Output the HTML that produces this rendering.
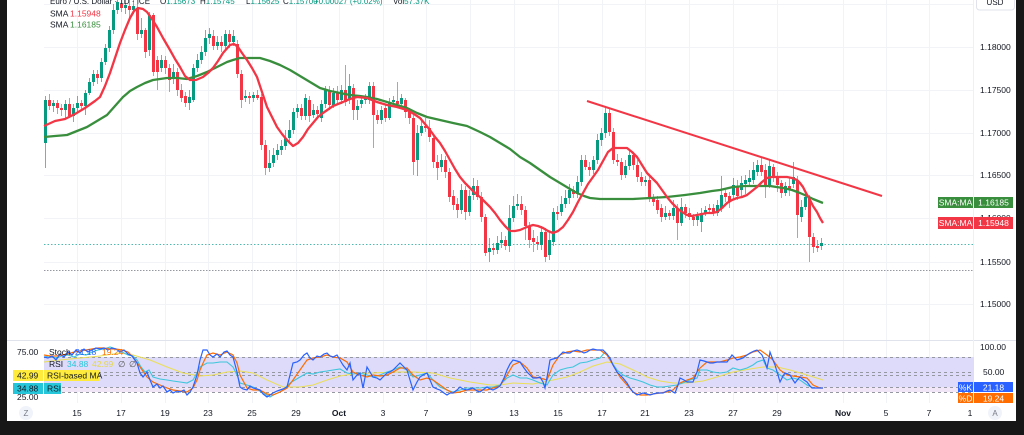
<!DOCTYPE html>
<html><head><meta charset="utf-8"><style>
html,body{margin:0;padding:0;background:#fff;}
svg{display:block;font-family:"Liberation Sans",sans-serif;}
</style></head><body>
<svg width="1024" height="435" viewBox="0 0 1024 435" xmlns="http://www.w3.org/2000/svg">
<rect x="0" y="0" width="1024" height="435" fill="#ffffff"/>
<!-- grid -->
<g stroke="#f1f3f6" stroke-width="1">
<path d="M44 4.5H974M44 47.5H974M44 90.5H974M44 133.5H974M44 175.5H974M44 218.5H974M44 262.5H974M44 304.5H974"/>
<path d="M77.5 0V403M121.5 0V403M165.5 0V403M208.5 0V403M252.5 0V403M296.5 0V403M339.5 0V403M383.5 0V403M426.5 0V403M470.5 0V403M514.5 0V403M558.5 0V403M602.5 0V403M645.5 0V403M689.5 0V403M733.5 0V403M777.5 0V403M843.5 0V403M886.5 0V403M929.5 0V403"/>
</g>
<!-- separators -->
<path d="M7 340.5H1016" stroke="#e0e3eb" stroke-width="1"/>
<path d="M973.5 0V403" stroke="#eef0f4" stroke-width="1"/>
<!-- dotted lines -->
<path d="M44 244.5H974" stroke="#4fb8b0" stroke-width="1" stroke-dasharray="1.5 2"/>
<path d="M44 270.5H974" stroke="#9598a1" stroke-width="1" stroke-dasharray="1.5 1.5"/>

<!-- candles wicks -->
<path stroke="#089981" stroke-opacity="0.65" stroke-width="1" fill="none" d="M45.5 96V168M53.5 100V112M65.5 100V118M73.5 104V122M77.5 96V112M85.5 90V115M89.5 78V95M93.5 70V86M101.5 58V82M105.5 44V65M109.5 26V52M113.5 4V34M117.5 0V14M125.5 0V14M133.5 0V14M141.5 18V38M149.5 12V56M161.5 55V72M173.5 64V84M189.5 90V110M193.5 64V102M197.5 54V72M201.5 46V64M205.5 30V56M209.5 28V44M217.5 36V50M225.5 30V50M233.5 30V46M245.5 90V102M253.5 92V102M269.5 150V172M273.5 148V167M277.5 144V160M281.5 140V155M285.5 130V150M289.5 120V142M293.5 108V134M297.5 104V118M305.5 94V120M313.5 104V118M321.5 100V122M325.5 86V108M333.5 88V108M341.5 85V104M349.5 74V104M357.5 100V120M361.5 96V108M365.5 94V104M369.5 82V104M381.5 106V124M389.5 98V120M393.5 96V106M401.5 94V108M417.5 125V176M421.5 118V136M441.5 154V172M461.5 184V214M469.5 190V216M473.5 178V200M489.5 238V262M497.5 236V254M501.5 232V248M509.5 205V252M513.5 196V222M517.5 194V210M541.5 226V250M549.5 232V260M553.5 208V246M561.5 196V216M565.5 190V208M569.5 184V204M577.5 176V198M581.5 155V186M593.5 156V174M597.5 134V164M601.5 128V146M605.5 108V138M625.5 160V178M629.5 150V170M645.5 176V186M665.5 206V220M673.5 200V220M681.5 198V226M697.5 212V226M701.5 208V232M705.5 206V216M717.5 200V216M721.5 176V212M733.5 178V200M741.5 176V196M745.5 175V194M749.5 170V186M753.5 162V184M757.5 160V176M769.5 160V188M785.5 182V196M793.5 162V188M801.5 200V222M805.5 192V210M821.5 238V250"/>
<path stroke="#f23645" stroke-opacity="0.6" stroke-width="1" fill="none" d="M49.5 94V110M57.5 100V114M61.5 104V116M69.5 98V118M81.5 100V110M97.5 70V84M121.5 0V12M129.5 0V18M137.5 4V40M145.5 28V58M153.5 13V76M157.5 56V90M165.5 56V74M169.5 64V92M177.5 68V96M181.5 84V102M185.5 92V107M213.5 30V50M221.5 36V52M229.5 30V48M237.5 40V78M241.5 70V108M249.5 92V104M257.5 90V100M261.5 94V150M265.5 140V175M301.5 104V120M309.5 96V122M317.5 106V118M329.5 86V110M337.5 86V104M345.5 65V106M353.5 84V120M373.5 82V148M377.5 110V124M385.5 104V122M397.5 82V108M405.5 98V118M409.5 108V124M413.5 114V175M425.5 118V132M429.5 120V142M433.5 134V168M437.5 155V180M445.5 156V178M449.5 168V202M453.5 190V210M457.5 198V218M465.5 186V220M477.5 180V200M481.5 192V222M485.5 214V256M493.5 243V255M505.5 236V250M521.5 196V215M525.5 206V240M529.5 222V248M533.5 230V252M537.5 236V250M545.5 228V262M557.5 206V220M573.5 186V198M585.5 155V170M589.5 162V176M609.5 108V136M613.5 128V164M617.5 154V166M621.5 158V180M633.5 152V170M637.5 160V182M641.5 172V186M649.5 176V202M653.5 194V206M657.5 196V214M661.5 204V222M669.5 210V220M677.5 204V240M685.5 204V218M689.5 208V220M693.5 214V226M709.5 204V214M713.5 204V216M725.5 190V202M729.5 192V208M737.5 180V200M761.5 158V176M765.5 164V198M773.5 164V182M777.5 172V192M781.5 180V198M789.5 178V196M797.5 176V238M809.5 195V262M813.5 233V253M817.5 240V252"/>
<!-- bodies -->
<path fill="#089981" d="M44 100h3v43h-3zM52 103h3v3h-3zM64 104h3v6h-3zM72 108h3v8h-3zM76 103h3v5h-3zM84 93h3v13h-3zM88 82h3v11h-3zM92 74h3v8h-3zM100 62h3v16h-3zM104 48h3v14h-3zM108 30h3v18h-3zM112 10h3v20h-3zM116 2h3v8h-3zM124 5h3v3h-3zM132 6h3v4h-3zM140 30h3v4h-3zM148 15h3v35h-3zM160 60h3v8h-3zM172 72h3v6h-3zM188 97h3v6h-3zM192 68h3v32h-3zM196 60h3v8h-3zM200 52h3v8h-3zM204 38h3v14h-3zM208 34h3v4h-3zM216 42h3v4h-3zM224 34h3v12h-3zM232 36h3v6h-3zM244 96h3v2h-3zM252 95h3v3h-3zM268 163h3v5h-3zM272 155h3v8h-3zM276 150h3v5h-3zM280 146h3v4h-3zM284 138h3v8h-3zM288 130h3v8h-3zM292 112h3v18h-3zM296 108h3v4h-3zM304 98h3v18h-3zM312 110h3v5h-3zM320 104h3v14h-3zM324 90h3v14h-3zM332 93h3v12h-3zM340 90h3v10h-3zM348 86h3v14h-3zM356 106h3v4h-3zM360 100h3v4h-3zM364 98h3v2h-3zM368 86h3v14h-3zM380 110h3v10h-3zM388 102h3v16h-3zM392 100h3v2h-3zM400 98h3v6h-3zM416 133h3v27h-3zM420 126h3v7h-3zM440 160h3v7h-3zM460 190h3v20h-3zM468 196h3v16h-3zM472 186h3v9h-3zM488 248h3v4h-3zM496 243h3v7h-3zM500 240h3v3h-3zM508 218h3v28h-3zM512 206h3v12h-3zM516 204h3v2h-3zM540 232h3v13h-3zM548 240h3v15h-3zM552 212h3v30h-3zM560 204h3v8h-3zM564 198h3v6h-3zM568 190h3v8h-3zM576 182h3v12h-3zM580 160h3v22h-3zM592 160h3v10h-3zM596 140h3v20h-3zM600 133h3v7h-3zM604 113h3v20h-3zM624 166h3v9h-3zM628 155h3v11h-3zM644 180h3v2h-3zM664 213h3v4h-3zM672 208h3v8h-3zM680 207h3v16h-3zM696 216h3v4h-3zM700 213h3v9h-3zM704 210h3v3h-3zM716 205h3v8h-3zM720 195h3v13h-3zM732 185h3v10h-3zM740 183h3v7h-3zM744 180h3v4h-3zM748 178h3v4h-3zM752 170h3v10h-3zM756 165h3v7h-3zM768 166h3v19h-3zM784 186h3v7h-3zM792 177h3v7h-3zM800 207h3v10h-3zM804 197h3v10h-3zM820 243h3v3h-3z"/>
<path fill="#f23645" d="M48 100h3v6h-3zM56 103h3v5h-3zM60 108h3v2h-3zM68 104h3v12h-3zM80 103h3v3h-3zM96 74h3v4h-3zM120 4h3v4h-3zM128 6h3v4h-3zM136 8h3v26h-3zM144 30h3v22h-3zM152 15h3v57h-3zM156 60h3v12h-3zM164 60h3v8h-3zM168 68h3v12h-3zM176 72h3v18h-3zM180 90h3v8h-3zM184 96h3v7h-3zM212 36h3v10h-3zM220 42h3v4h-3zM228 34h3v8h-3zM236 44h3v30h-3zM240 74h3v26h-3zM248 96h3v2h-3zM256 95h3v3h-3zM260 97h3v48h-3zM264 145h3v23h-3zM300 108h3v8h-3zM308 100h3v16h-3zM316 110h3v4h-3zM328 90h3v15h-3zM336 93h3v7h-3zM344 90h3v12h-3zM352 88h3v22h-3zM372 86h3v29h-3zM376 115h3v5h-3zM384 108h3v10h-3zM396 101h3v3h-3zM404 100h3v12h-3zM408 112h3v6h-3zM412 118h3v44h-3zM424 126h3v2h-3zM428 128h3v9h-3zM432 138h3v24h-3zM436 162h3v6h-3zM444 160h3v12h-3zM448 172h3v25h-3zM452 196h3v9h-3zM456 204h3v6h-3zM464 190h3v22h-3zM476 186h3v11h-3zM480 197h3v20h-3zM484 217h3v36h-3zM492 248h3v2h-3zM504 240h3v6h-3zM520 204h3v6h-3zM524 210h3v16h-3zM528 226h3v14h-3zM532 238h3v4h-3zM536 242h3v2h-3zM544 232h3v25h-3zM556 212h3v2h-3zM572 190h3v4h-3zM584 160h3v7h-3zM588 167h3v3h-3zM608 113h3v19h-3zM612 132h3v28h-3zM616 160h3v2h-3zM620 162h3v13h-3zM632 155h3v10h-3zM636 165h3v12h-3zM640 177h3v5h-3zM648 180h3v18h-3zM652 197h3v5h-3zM656 200h3v10h-3zM660 208h3v9h-3zM668 213h3v3h-3zM676 208h3v15h-3zM684 207h3v6h-3zM688 213h3v4h-3zM692 217h3v3h-3zM708 208h3v2h-3zM712 208h3v4h-3zM724 193h3v4h-3zM728 196h3v6h-3zM736 186h3v10h-3zM760 165h3v7h-3zM764 170h3v15h-3zM772 167h3v10h-3zM776 177h3v8h-3zM780 183h3v10h-3zM788 186h3v4h-3zM796 180h3v35h-3zM808 199h3v38h-3zM812 237h3v10h-3zM816 246h3v2h-3z"/>

<!-- SMA slow (green) -->
<polyline fill="none" stroke="#388e3c" stroke-width="2.3" stroke-linejoin="round" points="44,137 55,136 67,135 77,131 87,127 97,121 107,115 115,106 123,97 130,91 137,87 145,83 153,80 160,79 167,78 177,78 187,79 197,76 207,72 217,67 227,62 233,60 240,58 250,58 260,58 270,61 280,65 290,70 300,76 310,82 320,88 330,91 340,93 350,95 360,96 367,97 377,99 387,102 397,105 407,108 417,113 427,117 440,120 453,123 467,126 480,132 490,137 500,143 510,149 520,157 530,163 540,170 550,177 560,183 570,189 577,193 584,196 590,198 600,199 615,199 633,199 650,198 667,197 685,195 700,193 712,191 720,190 733,187 745,186 753,186 770,186 783,188 792,190 800,193 807,196 813,199 818,201 823,203"/>
<!-- SMA fast (red) -->
<polyline fill="none" stroke="#f23645" stroke-width="2.3" stroke-linejoin="round" points="44,126 55,121 65,119 75,114 85,108 95,101 100,97 105,86 110,73 115,58 120,43 125,30 130,18 134,11 138,8 143,9 147,12 152,19 157,27 163,38 170,50 175,59 180,67 185,76 190,80 196,80 203,77 208,73 213,68 218,61 223,53 230,45 234,44 238,47 242,53 247,60 252,68 257,77 262,92 267,107 272,117 277,127 282,134 287,140 293,146 298,143 303,137 308,129 313,123 318,117 323,113 333,106 343,102 350,99 357,97 367,98 377,102 387,105 397,107 407,110 414,114 420,118 425,124 430,130 435,137 440,143 445,151 450,160 455,169 460,177 465,183 470,188 475,193 480,197 485,202 490,207 495,213 500,220 505,226 510,231 515,231 520,230 527,227 533,225 538,226 543,228 548,231 553,233 558,231 563,227 568,220 573,212 578,202 583,193 588,184 593,177 598,170 603,161 608,152 613,148 620,148 627,148 632,152 637,157 642,165 647,173 652,178 657,183 662,190 667,197 672,203 677,208 682,212 687,215 692,216 697,215 702,214 707,213 712,213 717,212 722,208 727,203 732,200 737,198 742,197 747,195 752,191 757,187 762,182 767,178 772,177 777,177 782,177 787,177 792,178 797,180 800,183 803,187 806,193 810,200 813,206 817,212 820,218 823,223"/>
<!-- trendline -->
<line x1="587" y1="101" x2="882" y2="196" stroke="#f23645" stroke-width="2"/>

<!-- header legend -->
<g font-size="8" fill="#131722">
<text x="50" y="4">Euro / U.S. Dollar · 1D · ICE</text>
<text x="160" y="4">O<tspan fill="#089981">1.15673</tspan></text>
<text x="200" y="4">H<tspan fill="#089981">1.15745</tspan></text>
<text x="246" y="4">L<tspan fill="#089981">1.15625</tspan></text>
<text x="283" y="4">C<tspan fill="#089981">1.15700</tspan></text>
<text x="314" y="4" fill="#089981">+0.00027 (+0.02%)</text>
<text x="393" y="4">Vol<tspan fill="#089981">57.37K</tspan></text>
<text x="50" y="16.5" font-size="8.5">SMA</text>
<text x="70" y="16.5" font-size="8.5" fill="#f23645">1.15948</text>
<text x="50" y="27.5" font-size="8.5">SMA</text>
<text x="70" y="27.5" font-size="8.5" fill="#388e3c">1.16185</text>
</g>

<!-- price axis -->
<g font-size="8.5" fill="#131722">
<text x="980" y="50">1.18000</text>
<text x="980" y="93">1.17500</text>
<text x="980" y="136">1.17000</text>
<text x="980" y="178">1.16500</text>
<text x="980" y="221">1.16000</text>
<text x="980" y="265">1.15500</text>
<text x="980" y="307">1.15000</text>
</g>
<rect x="976.5" y="-4" width="38" height="14" rx="3" fill="#fff" stroke="#e0e3eb"/>
<text x="995" y="5" font-size="8" fill="#131722" text-anchor="middle">USD</text>
<rect x="938" y="197" width="35" height="11" fill="#388e3c"/>
<rect x="974" y="197" width="39" height="11" fill="#388e3c"/>
<rect x="938" y="217" width="35" height="12" fill="#f23645"/>
<rect x="974" y="217" width="39" height="12" fill="#f23645"/>
<g font-size="8.5" fill="#ffffff">
<text x="955.5" y="205.5" text-anchor="middle">SMA:MA</text>
<text x="993.5" y="205.5" text-anchor="middle">1.16185</text>
<text x="955.5" y="226" text-anchor="middle">SMA:MA</text>
<text x="993.5" y="226" text-anchor="middle">1.15948</text>
</g>

<!-- RSI / Stoch pane -->
<rect x="44" y="357" width="930" height="30" fill="#dddbf9"/>
<rect x="44" y="387" width="930" height="5" fill="#f0e6f7"/>
<g stroke="#9598a1" stroke-width="1" stroke-dasharray="3 3" fill="none">
<path d="M44 357.5H974M44 372.5H974M44 375.5H974M44 387.5H974M44 392.5H974"/>
</g>
<polyline fill="none" stroke="#ecdf55" stroke-width="1" points="44,362 60,360 80,358 100,356 120,353 133,355 150,360 167,367 183,373 200,376 213,375 227,372 240,371 253,373 267,380 283,387 300,387 313,385 327,380 340,376 353,374 373,373 393,372 413,372 433,373 450,378 470,382 490,385 500,385 513,383 533,384 553,380 567,377 580,372 593,366 607,362 620,364 633,370 647,377 660,381 673,383 687,383 703,381 717,377 733,372 750,369 763,367 777,367 790,370 807,375 823,380"/>
<polyline fill="none" stroke="#3dc6dc" stroke-width="1.1" points="44,357 50,356 56,358 62,356 68,355 74,357 80,354 86,355 92,352 98,350 104,349 110,347 116,349 122,352 128,355 133,356 137,360 141,367 145,372 149,370 153,377 160,379 167,380 173,381 180,382 187,383 193,380 197,373 200,367 207,363 213,363 220,362 227,362 233,367 237,375 240,383 247,385 253,387 258,390 263,393 270,397 275,394 280,392 285,388 290,383 295,380 300,377 307,373 313,374 320,372 327,371 333,370 340,369 347,373 353,374 360,373 367,375 373,377 380,375 387,372 393,370 400,367 407,370 413,377 420,375 427,373 433,380 440,387 447,390 453,392 460,390 467,388 473,388 480,388 487,387 493,387 500,385 507,378 513,375 520,378 527,378 533,380 540,383 547,385 553,375 560,370 567,368 573,367 580,363 587,362 593,360 600,358 605,352 610,360 617,370 623,375 630,378 637,380 643,382 650,385 657,387 663,387 670,386 677,385 683,383 690,380 697,378 700,370 707,370 713,372 720,373 727,372 733,368 740,370 747,368 753,365 757,362 763,360 767,368 773,370 780,375 787,380 793,378 800,380 807,385 813,388 823,388"/>
<polyline fill="none" stroke="#ff6d00" stroke-width="1.2" points="44,355 50,356 56,356 62,355 68,354 74,352 80,351 86,350 92,349 98,348 104,348 110,349 116,349 122,350 128,352 133,357 140,367 147,377 153,382 160,385 167,388 173,390 180,391 187,392 193,388 197,380 200,370 204,361 207,355 213,353 220,355 227,352 233,355 237,363 240,375 247,388 253,390 260,390 267,394 273,395 280,392 287,388 293,380 300,370 307,360 313,358 320,357 327,355 333,357 340,358 347,362 353,372 360,375 367,377 373,375 380,376 387,375 393,372 400,368 407,368 413,375 420,380 427,378 433,380 440,385 447,390 453,393 460,392 467,390 473,390 480,390 487,390 493,388 500,386 507,375 513,365 520,362 527,368 533,377 540,378 547,380 553,365 560,355 567,352 573,351 580,352 587,350 593,350 600,350 607,355 613,365 620,377 627,385 633,392 640,395 647,395 653,394 660,393 667,392 673,390 680,383 687,380 693,378 700,368 707,362 713,362 720,362 727,360 733,358 740,357 747,355 753,352 760,350 767,355 773,360 780,370 787,375 793,376 800,377 807,378 813,385 820,388 823,388"/>
<polyline fill="none" stroke="#2962ff" stroke-width="1.2" points="44,357 48,358 52,356 56,360 60,354 64,357 68,352 72,355 76,350 80,353 84,349 88,352 92,350 96,348 100,349 104,348 108,350 112,348 116,349 120,352 124,350 128,354 132,356 137,363 140,373 143,377 147,372 150,380 153,387 157,384 160,388 163,386 167,392 170,390 173,393 177,391 180,392 184,390 187,395 190,392 193,387 197,375 200,360 203,350 207,350 210,355 213,357 217,354 220,357 224,352 227,351 230,355 233,357 237,372 240,387 243,389 247,390 250,386 253,388 257,389 260,390 263,394 267,397 270,395 273,393 277,391 280,390 283,389 287,387 290,375 293,363 297,362 300,360 304,355 307,353 310,358 313,360 317,356 320,357 324,354 327,353 330,356 333,357 337,355 340,360 343,365 347,370 350,363 353,380 357,375 360,373 363,388 367,367 370,372 373,377 377,378 380,380 384,376 387,373 390,372 393,370 397,366 400,363 403,366 407,370 410,380 413,390 417,382 420,377 423,375 427,373 430,380 433,387 437,389 440,390 444,393 447,395 450,393 453,393 457,390 460,387 463,389 467,390 470,389 473,388 477,391 480,392 484,389 487,387 490,389 493,390 497,388 500,386 504,378 507,370 510,364 513,360 517,361 520,362 524,368 527,372 530,375 533,378 537,378 540,377 543,382 545,388 548,372 550,360 553,359 557,358 560,355 563,352 567,353 570,353 573,351 577,350 580,351 584,353 587,352 590,350 593,349 597,350 600,350 603,350 607,354 610,358 613,365 617,372 620,375 623,378 627,383 630,388 633,392 637,395 640,394 643,393 647,394 650,395 653,394 657,393 660,393 663,393 667,391 670,390 673,392 675,393 678,385 680,378 684,380 687,382 690,382 693,382 697,372 700,360 704,361 707,362 710,363 713,363 717,362 720,362 724,362 727,362 730,358 732,355 735,358 737,360 740,359 743,358 747,355 750,353 754,351 757,350 760,353 762,355 765,362 767,368 769,358 770,352 773,360 775,365 778,375 780,382 783,376 785,373 788,374 790,375 793,380 795,383 798,379 800,377 804,380 807,382 810,386 812,388 815,388 817,388 820,388 823,388"/>

<!-- pane legend -->
<g font-size="8.5">
<text x="49" y="355" fill="#131722">Stoch</text>
<text x="75" y="355" fill="#2962ff">21.18</text>
<text x="102" y="355" fill="#ff6d00">19.24</text>
<text x="49" y="367" fill="#131722">RSI</text>
<text x="67" y="367" fill="#26c6da">34.88</text>
<text x="92" y="367" fill="#e6d84a">42.99</text>
<text x="118" y="367" fill="#555">∅</text>
<text x="129" y="367" fill="#555">∅</text>
</g>
<!-- left scale -->
<g font-size="8.5" fill="#131722">
<text x="17" y="355">75.00</text>
<text x="17" y="400">25.00</text>
</g>
<rect x="13" y="370" width="30" height="11" fill="#ffeb3b"/>
<rect x="44" y="370" width="55" height="11" fill="#ffeb3b"/>
<rect x="13" y="383" width="30" height="11" fill="#26c6da"/>
<rect x="44" y="383" width="17" height="11" fill="#26c6da"/>
<g font-size="8.5" fill="#131722">
<text x="17" y="378.5">42.99</text>
<text x="47" y="378.5">RSI-based MA</text>
<text x="17" y="391.5">34.88</text>
<text x="47" y="391.5">RSI</text>
</g>
<!-- right pane scale -->
<g font-size="8.5" fill="#131722">
<text x="980" y="350">100.00</text>
<text x="983" y="375">50.00</text>
</g>
<rect x="958" y="382" width="15" height="10" fill="#2962ff"/>
<rect x="974" y="382" width="39" height="10" fill="#2962ff"/>
<rect x="958" y="393" width="15" height="10" fill="#ff6d00"/>
<rect x="974" y="393" width="39" height="10" fill="#ff6d00"/>
<g font-size="8.5" fill="#ffffff">
<text x="965.5" y="390.5" text-anchor="middle">%K</text>
<text x="993.5" y="390.5" text-anchor="middle">21.18</text>
<text x="965.5" y="401.5" text-anchor="middle">%D</text>
<text x="993.5" y="401.5" text-anchor="middle">19.24</text>
</g>

<!-- time axis -->
<g font-size="8.5" fill="#131722" text-anchor="middle">
<text x="77" y="416">15</text>
<text x="121" y="416">17</text>
<text x="165" y="416">19</text>
<text x="208" y="416">23</text>
<text x="252" y="416">25</text>
<text x="296" y="416">29</text>
<text x="339" y="416" font-weight="bold">Oct</text>
<text x="383" y="416">3</text>
<text x="426" y="416">7</text>
<text x="470" y="416">9</text>
<text x="514" y="416">13</text>
<text x="558" y="416">15</text>
<text x="602" y="416">17</text>
<text x="645" y="416">21</text>
<text x="689" y="416">23</text>
<text x="733" y="416">27</text>
<text x="777" y="416">29</text>
<text x="843" y="416" font-weight="bold">Nov</text>
<text x="886" y="416">5</text>
<text x="929" y="416">7</text>
<text x="970" y="416">1</text>
</g>
<circle cx="26" cy="413" r="7" fill="#f0f3fa"/>
<text x="26" y="416" font-size="8" fill="#787b86" text-anchor="middle">Z</text>
<circle cx="995" cy="413" r="7" fill="#f0f3fa"/>
<text x="995" y="416" font-size="8" fill="#787b86" text-anchor="middle">A</text>

<!-- black frame -->
<rect x="0" y="0" width="7" height="435" fill="#171717"/>
<rect x="1016" y="0" width="8" height="435" fill="#171717"/>
<rect x="0" y="421" width="1024" height="14" fill="#171717"/>
</svg>
</body></html>
